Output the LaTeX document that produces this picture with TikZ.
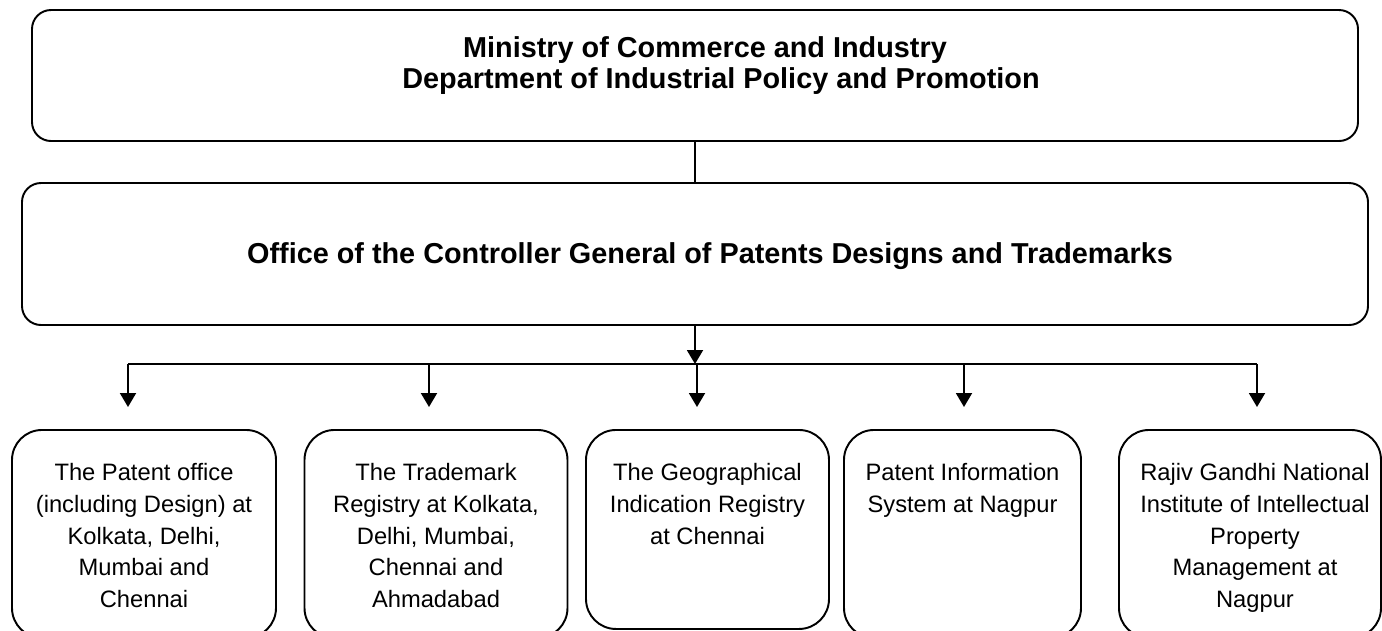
\documentclass[tikz,border=0pt]{standalone}
\usepackage{fontspec}
\setmainfont{Liberation Sans}
\usetikzlibrary{positioning}
\usetikzlibrary{arrows.meta}
\tikzset{head/.style={draw=black, line width=1.1pt, rounded corners=0.38cm, inner sep=0pt},
  headtext/.style={align=center, inner sep=0pt, font=\bfseries\fontsize{16.4}{17.6}\selectfont},
  unit/.style={draw=black, line width=1.1pt, rounded corners=0.6cm, anchor=north, minimum height=4.16cm, inner sep=0pt},
  unittext/.style={align=center, inner sep=0pt, font=\fontsize{13.5}{18.1}\selectfont},
  down/.style={-{Triangle[length=0.28cm,width=0.32cm]}, line width=1.1pt}}

\begin{document}
\begin{tikzpicture}
      \useasboundingbox (0,0) rectangle (27.64,-12.6);
      \clip (0,0) rectangle (27.64,-12.6);

      \node[head, minimum width=26.52cm, minimum height=2.62cm] (ministry) at (13.9,-1.51) {};
      \node[headtext, anchor=north] (ministrytext) at (14.1,-0.72) {Ministry of Commerce and Industry\\\hspace*{0.64cm}Department of Industrial Policy and Promotion};

      \node[head, minimum width=26.92cm, minimum height=2.84cm] (office) at (13.9,-5.08) {};
      \node[headtext, anchor=base] (officetext) at (14.2,-5.26) {Office of the Controller General of Patents Designs and Trademarks};

      \draw[line width=1.1pt] (ministry.south) -- (office.north);

      % bus line under the office
      \coordinate (b1) at (2.56,-7.28);
      \coordinate (b2) at (8.58,-7.28);
      \coordinate (b3) at (13.94,-7.28);
      \coordinate (b4) at (19.28,-7.28);
      \coordinate (b5) at (25.14,-7.28);
      \draw[line width=1.1pt] (b1) -- (b5);
      \draw[down] (office.south) -- (office.south |- b1);

      \node[unit, minimum width=5.28cm] (patent) at (2.88,-8.58) {};
      \node[unit, minimum width=5.26cm] (trademark) at (8.72,-8.58) {};
      \node[unit, minimum width=4.86cm, minimum height=3.98cm] (gi) at (14.15,-8.58) {};
      \node[unit, minimum width=4.74cm] (pis) at (19.25,-8.58) {};
      \node[unit, minimum width=5.24cm] (rgniipm) at (25.0,-8.58) {};

      \node[unittext, below=0.68cm of patent.north] (patenttext) {The Patent office\\(including Design) at\\Kolkata, Delhi,\\Mumbai and\\Chennai};
      \node[unittext, below=0.68cm of trademark.north] (trademarktext) {The Trademark\\Registry at Kolkata,\\Delhi, Mumbai,\\Chennai and\\Ahmadabad};
      \node[unittext, below=0.68cm of gi.north] (gitext) {The Geographical\\Indication Registry\\at Chennai};
      \node[unittext, below=0.68cm of pis.north] (pistext) {Patent Information\\System at Nagpur};
      \node[unittext, below=0.68cm of rgniipm.north, xshift=0.1cm] (rgniipmtext) {Rajiv Gandhi National\\Institute of Intellectual\\Property\\Management at\\Nagpur};

      \draw[down, shorten >=0.44cm] (b1) -- (b1 |- patent.north);
      \draw[down, shorten >=0.44cm] (b2) -- (b2 |- trademark.north);
      \draw[down, shorten >=0.44cm] (b3) -- (b3 |- gi.north);
      \draw[down, shorten >=0.44cm] (b4) -- (b4 |- pis.north);
      \draw[down, shorten >=0.44cm] (b5) -- (b5 |- rgniipm.north);
\end{tikzpicture}
\end{document}
